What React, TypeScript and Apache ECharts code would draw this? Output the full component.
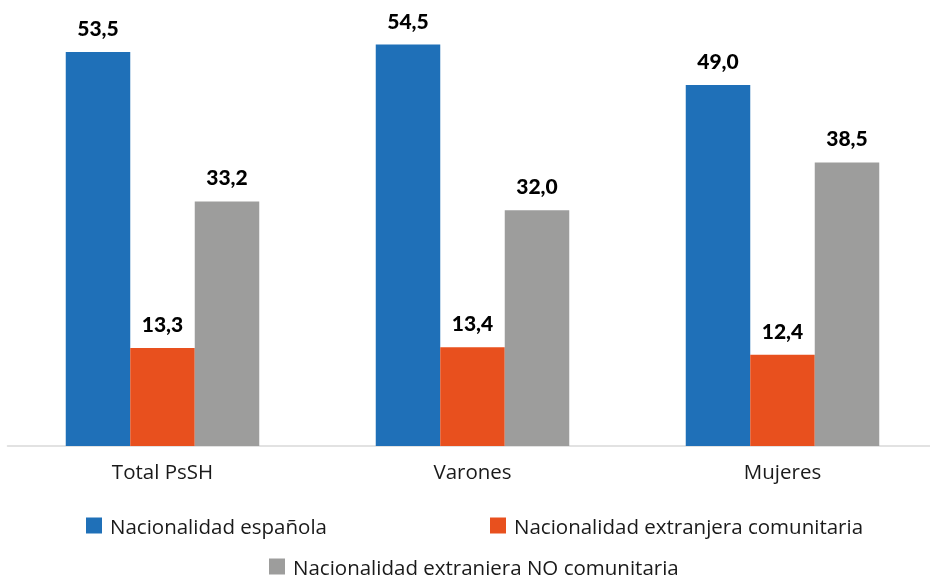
import React, { useEffect, useRef } from "react";
import * as echarts from "echarts";

const categories = ["Total PsSH", "Varones", "Mujeres"];
const seriesNames = [
  "Nacionalidad española",
  "Nacionalidad extranjera comunitaria",
  "Nacionalidad extranjera NO comunitaria",
];
const espanola = [53.5, 54.5, 49.0];
const comunitaria = [13.3, 13.4, 12.4];
const noComunitaria = [33.2, 32.0, 38.5];
const colors = ["#1F70B8", "#E8501E", "#9D9D9C"];

export default function App() {
  const ref = useRef<HTMLDivElement>(null);
  useEffect(() => {
    if (!ref.current) return;
    const chart = echarts.init(ref.current, null, { renderer: "svg" });
    const values = [espanola, comunitaria, noComunitaria];
    const legendText = { fontFamily: "Open Sans", fontSize: 20.5, color: "#1a1a1a", padding: [0, 0, 0, 3] };
    const legendPos = [
      { left: 81, top: 510 },
      { left: 485, top: 510 },
      { left: 264, top: 551 },
    ];
    chart.setOption({
      animation: false,
      grid: { left: 7.5, top: 4.1, width: 930, height: 441.9, containLabel: false },
      xAxis: {
        type: "category",
        data: categories,
        axisLine: { show: true, lineStyle: { color: "#d9d9d9", width: 1.5 } },
        axisTick: { show: false },
        axisLabel: { fontFamily: "Open Sans", fontSize: 20.5, color: "#1a1a1a", margin: 14 },
      },
      yAxis: { type: "value", min: 0, max: 60, show: false, splitLine: { show: false } },
      legend: seriesNames.map((n, i) => ({
        data: [n],
        left: legendPos[i].left,
        top: legendPos[i].top,
        icon: "rect",
        itemWidth: 16,
        itemHeight: 16,
        textStyle: legendText,
        selectedMode: false,
      })),
      series: seriesNames.map((name, i) => ({
        name,
        type: "bar",
        data: values[i],
        barWidth: 64.5,
        barGap: "0%",
        itemStyle: { color: colors[i] },
        label: {
          show: true,
          position: "top",
          distance: 14,
          fontFamily: "Lato",
          fontWeight: 900,
          fontSize: 21,
          color: "#000",
          formatter: (p: any) => p.value.toFixed(1).replace(".", ","),
        },
      })),
    });
    return () => chart.dispose();
  }, []);
  return (
    <div style={{ position: "fixed", left: 0, top: 0, width: 930, height: 575, overflow: "hidden" }}>
      <div ref={ref} style={{ width: 945, height: 575 }} />
    </div>
  );
}
